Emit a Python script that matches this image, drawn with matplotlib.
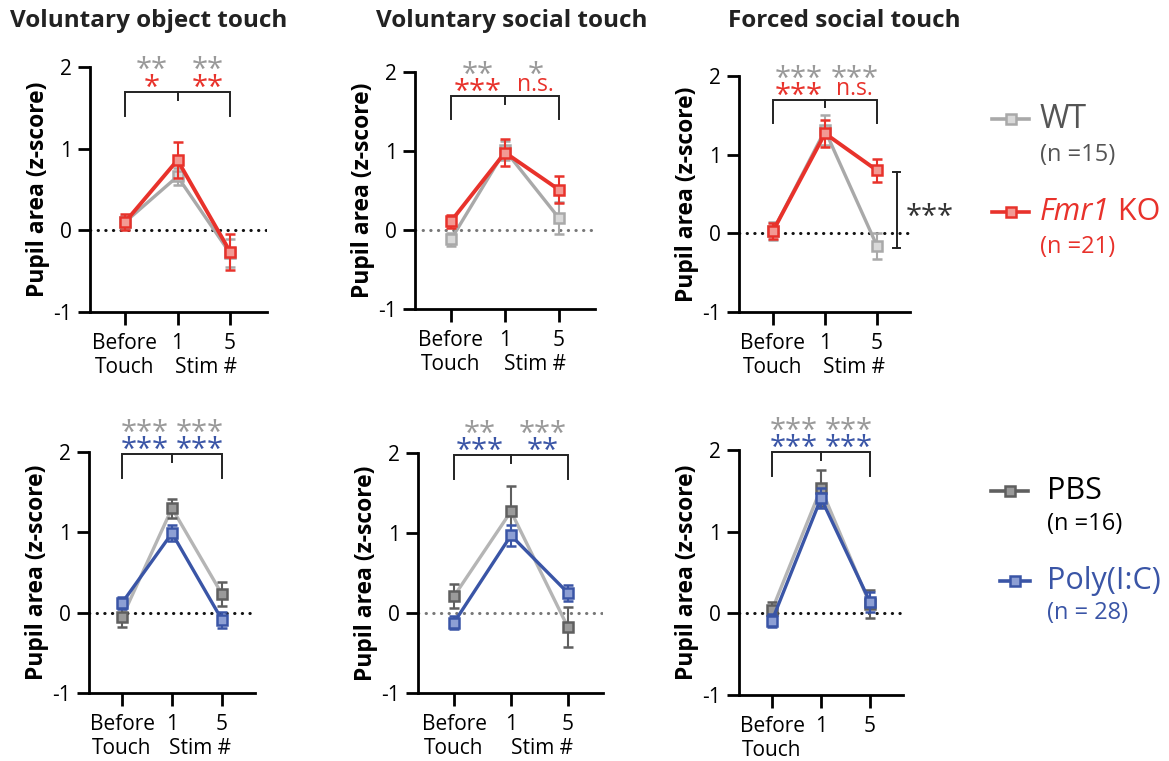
import matplotlib
matplotlib.use("Agg")
import matplotlib.pyplot as plt
from matplotlib.lines import Line2D

plt.rcParams['font.family'] = ['Open Sans', 'DejaVu Sans']

W, H = 1169, 761

conditions = ["Before\nTouch", "1", "5"]
titles = ["Voluntary object touch", "Voluntary social touch", "Forced social touch"]

# top row: WT vs Fmr1 KO
wt_mean = [[0.10, 0.66, -0.28], [-0.12, 1.01, 0.15], [0.03, 1.31, -0.16]]
wt_err = [[0.08, 0.10, 0.17], [0.08, 0.12, 0.20], [0.12, 0.19, 0.17]]
ko_mean = [[0.10, 0.86, -0.26], [0.11, 0.98, 0.51], [0.03, 1.27, 0.80]]
ko_err = [[0.10, 0.22, 0.22], [0.08, 0.17, 0.17], [0.10, 0.17, 0.15]]
# bottom row: PBS vs Poly(I:C)
pbs_mean = [[-0.06, 1.30, 0.23], [0.21, 1.27, -0.18], [0.04, 1.53, 0.11]]
pbs_err = [[0.12, 0.12, 0.15], [0.15, 0.32, 0.25], [0.10, 0.22, 0.17]]
pic_mean = [[0.12, 0.99, -0.09], [-0.12, 0.97, 0.25], [-0.09, 1.41, 0.14]]
pic_err = [[0.07, 0.10, 0.10], [0.08, 0.13, 0.10], [0.08, 0.12, 0.12]]

wt_sig = [["**", "**"], ["**", "*"], ["***", "***"]]
ko_sig = [["*", "**"], ["***", "n.s."], ["***", "n.s."]]
pbs_sig = [["***", "***"], ["**", "***"], ["***", "***"]]
pic_sig = [["***", "***"], ["***", "**"], ["***", "***"]]

legend_top = ["WT", "(n =15)", "Fmr1", " KO", "(n =21)"]
legend_bot = ["PBS", "(n =16)", "Poly(I:C)", "(n = 28)"]

RED = '#e8322b'
GRAY = '#a9a9a9'
DGRAY = '#5f5f5f'
BLUE = '#3a55a6'
STARGRAY = '#999999'

# pixel layout: left(y-axis), right end, top(y=2), bottom(y=-1), tick0 x, tick2 x
layout = [
    (90, 267, 67, 312, 125, 230),
    (415, 595, 72, 309, 451, 559),
    (739, 910, 76, 312, 773, 877),
    (89, 255, 452, 693, 122, 222),
    (418, 603, 453, 693, 454, 568),
    (739, 903, 450, 695, 772, 870),
]
title_x = [10, 376, 728]

fig = plt.figure(figsize=(W / 100, H / 100), dpi=100)


def sig_text(ax, x, y, lab, color):
    if lab == "n.s.":
        ax.annotate(lab, (x, y), xytext=(0, -5.5), textcoords='offset points',
                    ha='center', va='baseline', fontsize=16.5, color=color,
                    annotation_clip=False)
    else:
        ax.annotate(lab, (x, y), xytext=(0, -12.5), textcoords='offset points',
                    ha='center', va='baseline', fontsize=21, color=color,
                    annotation_clip=False)


def draw_panel(i, series, sig_rows, br_y, drop_y, zero_color, sig_x):
    L, R, T, B, t0, t2 = layout[i]
    ax = fig.add_axes([L / W, 1 - B / H, (R - L) / W, (B - T) / H])
    u = (t2 - t0) / 2.0
    ax.set_xlim((L - t0) / u, (R - t0) / u)
    ax.set_ylim(-1, 2)
    xs = list(range(len(conditions)))
    ax.axhline(0, color=zero_color, lw=2.2, linestyle=(0, (0.1, 2.4)),
               dash_capstyle='round', zorder=1)
    for (m, e, lc, mc, fc, lw, z) in series:
        ax.plot(xs, m, color=lc, lw=lw, zorder=z)
        ax.errorbar(xs, m, yerr=e, fmt='s', color=mc, ms=6.5, mfc=fc, mec=mc,
                    mew=1.8, elinewidth=1.5, capsize=3.5, capthick=1.5, zorder=z + 0.5)
    for s in ['top', 'right']:
        ax.spines[s].set_visible(False)
    for s in ['left', 'bottom']:
        ax.spines[s].set_linewidth(2.0)
    ax.set_yticks([-1, 0, 1, 2])
    ax.set_yticklabels(["-1", "0", "1", "2"])
    ax.set_xticks(xs)
    ax.set_xticklabels(conditions, linespacing=1.2)
    ax.tick_params(axis='both', direction='out', length=9, width=2.0, labelsize=15, pad=4)
    ax.tick_params(axis='x', pad=6)
    ax.set_ylabel("Pupil area (z-score)", fontsize=16.5, fontweight='bold', labelpad=2)
    # bracket
    ax.plot([0, 0, 2, 2], [drop_y, br_y, br_y, drop_y], color='#222222', lw=1.4,
            clip_on=False, solid_joinstyle='miter')
    ax.plot([1, 1], [br_y, br_y - 0.1], color='#222222', lw=1.4, clip_on=False)
    for (color, labs, y) in sig_rows:
        for x, lab in zip(sig_x, labs):
            sig_text(ax, x, y, lab, color)
    return ax


axes = []
for j in range(3):
    ax = draw_panel(j,
                    [(wt_mean[j], wt_err[j], GRAY, GRAY, '#d9d9d9', 2.4, 2),
                     (ko_mean[j], ko_err[j], RED, RED, '#f29a94', 2.8, 4)],
                    [(STARGRAY, wt_sig[j], 2.08), (RED, ko_sig[j], 1.86)],
                    1.7, 1.4, '#111111' if j != 1 else '#777777', [0.5, 1.57])
    axes.append((ax, True))
    fig.text(title_x[j] / W, 1 - 21 / H, titles[j], fontsize=17.5,
             fontweight='bold', ha='left', va='center', color='#222222')
    if j == 2:
        xb = 2.38
        ax.plot([xb, xb], [-0.19, 0.78], color='#222222', lw=1.4, clip_on=False)
        ax.plot([xb - 0.07, xb + 0.07], [0.78, 0.78], color='#222222', lw=1.4, clip_on=False)
        ax.plot([xb - 0.07, xb + 0.07], [-0.19, -0.19], color='#222222', lw=1.4, clip_on=False)
        ax.annotate("***", (3.02, 0.33), xytext=(0, -12.5), textcoords='offset points',
                    ha='center', va='baseline', fontsize=21, color='#333333',
                    annotation_clip=False)

for j in range(3):
    ax = draw_panel(3 + j,
                    [(pbs_mean[j], pbs_err[j], '#b5b5b5', DGRAY, '#9a9a9a', 2.4, 2),
                     (pic_mean[j], pic_err[j], BLUE, BLUE, '#8d9fd4', 2.4, 4)],
                    [(STARGRAY, pbs_sig[j], 2.35), (BLUE, pic_sig[j], 2.14)],
                    1.98, 1.68, '#111111' if j != 1 else '#777777', [0.45, 1.56])
    axes.append((ax, j != 2))

fig.canvas.draw()
for ax, stim in axes:
    if stim:
        bb = ax.get_xticklabels()[0].get_window_extent()
        xpix = ax.transData.transform((1.55, 0))[0]
        fig.text(xpix / W, bb.y0 / H, "Stim #", ha='center', va='bottom', fontsize=15)


def legend_line(x0, x1, y, lc, mc, fc):
    fig.add_artist(Line2D([x0 / W, x1 / W], [1 - y / H, 1 - y / H], color=lc, lw=2.6,
                          transform=fig.transFigure))
    fig.add_artist(Line2D([(x0 + x1) / 2 / W], [1 - y / H], marker='s', ms=6.5,
                          mfc=fc, mec=mc, mew=1.8, transform=fig.transFigure))


legend_line(992, 1029, 119, GRAY, GRAY, '#d9d9d9')
fig.text(1040 / W, 1 - 119 / H, legend_top[0], fontsize=23, color='#555555', va='center')
fig.text(1040 / W, 1 - 155 / H, legend_top[1], fontsize=17, color='#555555', va='center')
legend_line(992, 1029, 212, RED, RED, '#f29a94')
t = fig.text(1040 / W, 1 - 212 / H, legend_top[2], fontsize=22, color=RED, va='center',
             style='italic')
fig.canvas.draw()
bb = t.get_window_extent()
fig.text(bb.x1 / W, 1 - 212 / H, legend_top[3], fontsize=22, color=RED, va='center')
fig.text(1040 / W, 1 - 247 / H, legend_top[4], fontsize=17, color=RED, va='center')

legend_line(991, 1028, 491, DGRAY, DGRAY, '#9a9a9a')
fig.text(1047 / W, 1 - 491 / H, legend_bot[0], fontsize=22, color='black', va='center')
fig.text(1047 / W, 1 - 524 / H, legend_bot[1], fontsize=17, color='black', va='center')
legend_line(1000, 1030, 581, BLUE, BLUE, '#8d9fd4')
fig.text(1047 / W, 1 - 581 / H, legend_bot[2], fontsize=22, color=BLUE, va='center')
fig.text(1047 / W, 1 - 613 / H, legend_bot[3], fontsize=17, color=BLUE, va='center')

fig.savefig("out.png", dpi=100)
